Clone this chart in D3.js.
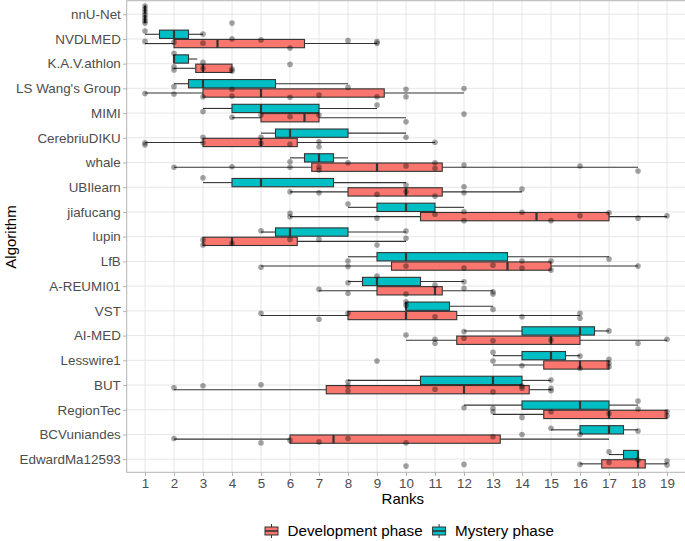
<!DOCTYPE html>
<html><head><meta charset="utf-8">
<script src="https://cdn.jsdelivr.net/npm/d3@7"></script>
<style>body{margin:0;background:#fff}svg{display:block}text{font-family:"Liberation Sans",Arial,sans-serif}</style>
</head><body><svg id="c" width="685" height="541"></svg>
<script>
const algorithms = ["nnU-Net","NVDLMED","K.A.V.athlon","LS Wang's Group","MIMI","CerebriuDIKU","whale","UBIlearn","jiafucang","lupin","LfB","A-REUMI01","VST","AI-MED","Lesswire1","BUT","RegionTec","BCVuniandes","EdwardMa12593"];
const rankTicks = [1,2,3,4,5,6,7,8,9,10,11,12,13,14,15,16,17,18,19];
const phases = ["Development phase","Mystery phase"];
// box stats: [lowerWhisker, q1, median, q3, upperWhisker]
const devStats = [
 [1,1,1,1,1],[1,2,3.5,6.5,9],[2,2.75,3,4,4],[1,3,5,9.25,12],[4,5,6.5,7,10],
 [1,3,5,6.25,11],[2,6.75,9,11.25,18],[6,8,10,11.25,14],[6,10.5,14.5,17,19],[3,3,4,6.25,10],
 [5,9.5,13.5,15,18],[7,9,11,11.25,13],[5,8,10,11.75,16],[10,11.75,15,16,19],[13,14.75,16,17,17],
 [2,7.25,12,14.25,15],[13,14.75,17,19,19],[2,6,7.5,13.25,17],[16,16.75,18,18.25,19]];
const mysStats = [
 [1,1,1,1,1],[1,1.5,2,2.5,3],[2,2,2,2.5,2.8],[2,2.5,3,5.5,8],[3,4,5,7,9],
 [5,5.5,6,8,10],[6,6.5,7,7.5,8],[3,4,5,7.5,10],[8,9,10,11,12],[5,5.5,6,8,10],
 [8,9,10,13.5,17],[8,8.5,9,10.5,12],[10,10,10,11.5,13],[12,14,16,16.5,17],[13,14,15,15.5,16],
 [8,10.5,13,14,15],[12,14,16,17,18],[15,16,17,17.5,18],[17,17.5,18,18,18]];
// observed points per algorithm: [rank, vertical jitter in category units]
const pointsByAlg = [
 [[1,-0.33],[1,-0.21],[1,-0.09],[1,0.03],[1,0.15],[1,0.27],[1,0.36],[4,0.36]],
 [[1,-0.32],[1,0.10],[2,0.13],[3,-0.20],[3,0.17],[4,0.0],[5,0.04],[6,0.37],[8,0.07],[9,0.11],[9,0.18]],
 [[2,-0.42],[2,0.13],[2,0.26],[3,-0.05],[3,0.19],[4,0.22],[4,0.30],[6,0.03]],
 [[1,0.21],[2,-0.07],[2,0.23],[3,0.34],[4,0.04],[4,0.31],[6,0.36],[7,0.27],[8,-0.04],[9,0.34],[10,0.04],[10,0.34],[12,0.01]],
 [[3,-0.06],[4,0.17],[5,0.08],[6,0.15],[7,0.08],[9,-0.33],[10,0.35],[12,0.04]],
 [[1,0.20],[1,0.29],[3,-0.02],[3,0.20],[5,-0.02],[5,0.22],[6,0.26],[7,0.16],[7,0.36],[10,-0.02],[11,0.18]],
 [[2,0.19],[4,0.17],[6,-0.03],[6,0.19],[7,0.17],[7,0.30],[8,0.01],[10,0.14],[11,0.01],[11,0.23],[12,0.10],[16,0.14],[18,0.34]],
 [[3,-0.38],[6,0.18],[7,0.22],[9,0.28],[10,-0.09],[10,0.18],[11,0.36],[12,-0.02],[12,0.22],[14,0.07]],
 [[8,-0.32],[6,0.05],[6,0.19],[9,0.25],[11,0.09],[12,-0.01],[12,0.35],[14,0.01],[15,0.35],[16,0.15],[17,0.03],[18,0.25],[19,0.15]],
 [[5,-0.24],[10,-0.23],[10,0.06],[3,0.13],[3,0.34],[4,0.27],[6,0.11],[7,0.11],[9,0.34]],
 [[8,-0.02],[8,0.21],[5,0.24],[10,0.19],[12,0.27],[13,0.15],[14,-0.02],[14,0.27],[15,-0.02],[15,0.35],[17,-0.10],[18,0.19]],
 [[8,-0.14],[9,-0.41],[7,0.13],[8,0.29],[12,-0.18],[11,-0.04],[12,0.09],[13,0.23],[13,0.32],[10,0.32]],
 [[10,-0.37],[10,-0.23],[13,-0.06],[5,0.10],[7,0.34],[8,0.10],[11,0.24],[14,0.24],[16,0.10],[16,0.30]],
 [[12,-0.16],[10,-0.02],[11,0.15],[11,0.31],[12,0.11],[13,0.21],[15,0.18],[17,-0.19],[18,0.31],[19,0.15]],
 [[13,-0.32],[13,0.03],[14,0.22],[16,-0.17],[16,0.32],[17,-0.04],[17,0.12],[17,0.26],[9,0.03]],
 [[2,0.11],[3,0.03],[5,-0.01],[8,-0.13],[8,0.04],[8,0.24],[11,0.17],[13,0.27],[14,0.04],[14,0.13],[15,-0.20],[15,0.13],[15,0.23]],
 [[12,-0.08],[13,-0.06],[13,0.08],[14,0.31],[15,0.08],[17,0.15],[18,-0.35],[18,-0.03],[19,0.08],[19,0.24]],
 [[2,0.16],[5,0.34],[6,0.23],[7,0.30],[8,0.16],[10,0.34],[13,0.09],[14,0.0],[15,-0.25],[16,0.0],[18,-0.14]],
 [[17,-0.30],[10,0.28],[12,0.21],[16,0.21],[17,0.13],[18,0.03],[19,0.07],[19,0.23]]];

const colors = {"Development phase":"#F8766D","Mystery phase":"#00BFC4"};
const svg = d3.select("#c");
const P = {l:126.7, r:686, t:0.7, b:472.3};
const x = d3.scaleLinear().domain([1,19]).range([145,667]);
const y = d3.scalePoint().domain(algorithms).range([14.2,459.2]);
const step = y.step();
const boxH = 8.3, off = 4.65;

// panel grid
const g = svg.append("g");
g.selectAll(".vg").data(rankTicks).join("line")
 .attr("x1",d=>x(d)).attr("x2",d=>x(d)).attr("y1",P.t).attr("y2",P.b)
 .attr("stroke","#E3E3E3").attr("stroke-width",0.9);
g.selectAll(".hg").data(algorithms).join("line")
 .attr("x1",P.l).attr("x2",P.r).attr("y1",d=>y(d)).attr("y2",d=>y(d))
 .attr("stroke","#E3E3E3").attr("stroke-width",0.9);

// boxplots
const boxes = [];
algorithms.forEach((a,i)=>{
  boxes.push({alg:a, phase:"Mystery phase", s:mysStats[i], dy:-off});
  boxes.push({alg:a, phase:"Development phase", s:devStats[i], dy:off});
});
const bg = svg.append("g");
boxes.forEach(b=>{
  const cy = y(b.alg)+b.dy;
  const [lo,q1,md,q3,hi] = b.s;
  bg.append("line").attr("x1",x(lo)).attr("x2",x(q1)).attr("y1",cy).attr("y2",cy).attr("stroke","#333").attr("stroke-width",1.1);
  bg.append("line").attr("x1",x(q3)).attr("x2",x(hi)).attr("y1",cy).attr("y2",cy).attr("stroke","#333").attr("stroke-width",1.1);
  bg.append("rect").attr("x",x(q1)).attr("width",Math.max(0,x(q3)-x(q1))).attr("y",cy-boxH/2).attr("height",boxH)
    .attr("fill",colors[b.phase]).attr("stroke","#333").attr("stroke-width",1.1);
  bg.append("line").attr("x1",x(md)).attr("x2",x(md)).attr("y1",cy-boxH/2).attr("y2",cy+boxH/2).attr("stroke","#333").attr("stroke-width",2.2);
});

// jittered points
const pts = [];
algorithms.forEach((a,i)=>pointsByAlg[i].forEach(p=>pts.push({alg:a, r:p[0], j:p[1]})));
svg.append("g").selectAll("circle").data(pts).join("circle")
 .attr("cx",d=>x(d.r)).attr("cy",d=>y(d.alg)+d.j*step).attr("r",2.8)
 .attr("fill","#000").attr("fill-opacity",0.36);

// panel border
svg.append("rect").attr("x",P.l).attr("y",P.t).attr("width",P.r-P.l).attr("height",P.b-P.t)
 .attr("fill","none").attr("stroke","#B3B3B3").attr("stroke-width",1);

// axes
const xa = svg.append("g").attr("transform",`translate(0,${P.b})`)
 .call(d3.axisBottom(x).tickValues(rankTicks).tickSize(3.7).tickPadding(2.5).tickFormat(d3.format("d")));
const ya = svg.append("g").attr("transform",`translate(${P.l},0)`)
 .call(d3.axisLeft(y).tickSize(3.7).tickPadding(2.2));
[xa,ya].forEach(a=>{
  a.select(".domain").remove();
  a.selectAll(".tick line").attr("stroke","#B3B3B3");
  a.selectAll(".tick text").attr("fill","#4D4D4D").style("font-size","13.4px").style("font-family","Liberation Sans, Arial, sans-serif");
});

svg.append("text").attr("x",(P.l+685)/2 - 3).attr("y",504).attr("text-anchor","middle")
 .style("font-size","15px").attr("fill","#000").text("Ranks");
svg.append("text").attr("transform","translate(16,237) rotate(-90)").attr("text-anchor","middle")
 .style("font-size","15px").attr("fill","#000").text("Algorithm");

// legend
const lg = svg.append("g");
let lx = 265;
phases.forEach(ph=>{
  const kx = lx, kc = 531;
  lg.append("line").attr("x1",kx+6.5).attr("x2",kx+6.5).attr("y1",kc-7).attr("y2",kc+7).attr("stroke","#333").attr("stroke-width",1);
  lg.append("rect").attr("x",kx).attr("y",kc-4).attr("width",13).attr("height",8)
    .attr("fill",colors[ph]).attr("stroke","#333").attr("stroke-width",1);
  lg.append("line").attr("x1",kx).attr("x2",kx+13).attr("y1",kc).attr("y2",kc).attr("stroke","#333").attr("stroke-width",1.6);
  const t = lg.append("text").attr("x",kx+22.5).attr("y",536).style("font-size","15.2px").attr("fill","#000").text(ph);
  lx = kx + 22.5 + t.node().getComputedTextLength() + 10;
});
</script></body></html>
